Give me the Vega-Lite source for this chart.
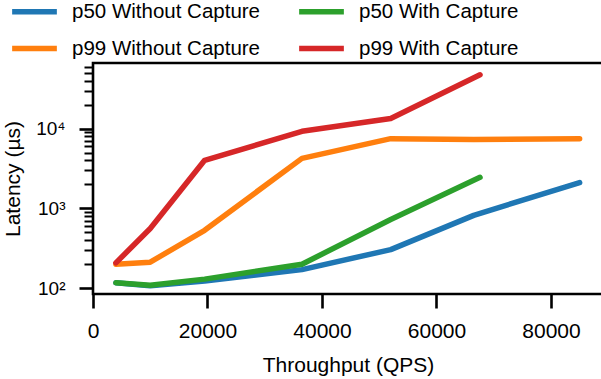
{
  "$schema": "https://vega.github.io/schema/vega-lite/v6.json",
  "autosize": {"type": "none"},
  "padding": {"left": 93, "top": 63, "right": 0, "bottom": 85},
  "width": 510,
  "height": 231,
  "config": {
    "font": "Liberation Sans",
    "view": {"stroke": "black", "strokeWidth": 2.6},
    "axis": {"grid": false, "domain": false, "labelColor": "black", "titleColor": "black", "tickColor": "black", "titleFontWeight": "normal"}
  },
  "data": {
    "values": [
      {"series": "p50 Without Capture", "qps": 4000, "latency": 117},
      {"series": "p50 Without Capture", "qps": 10000, "latency": 107},
      {"series": "p50 Without Capture", "qps": 19500, "latency": 123},
      {"series": "p50 Without Capture", "qps": 36500, "latency": 171},
      {"series": "p50 Without Capture", "qps": 52000, "latency": 305},
      {"series": "p50 Without Capture", "qps": 66500, "latency": 820},
      {"series": "p50 Without Capture", "qps": 85000, "latency": 2110},
      {"series": "p99 Without Capture", "qps": 4000, "latency": 200},
      {"series": "p99 Without Capture", "qps": 10000, "latency": 212},
      {"series": "p99 Without Capture", "qps": 19500, "latency": 533},
      {"series": "p99 Without Capture", "qps": 36500, "latency": 4250},
      {"series": "p99 Without Capture", "qps": 52000, "latency": 7500},
      {"series": "p99 Without Capture", "qps": 66500, "latency": 7300},
      {"series": "p99 Without Capture", "qps": 85000, "latency": 7500},
      {"series": "p50 With Capture", "qps": 4000, "latency": 117},
      {"series": "p50 With Capture", "qps": 10000, "latency": 109},
      {"series": "p50 With Capture", "qps": 19500, "latency": 130},
      {"series": "p50 With Capture", "qps": 36500, "latency": 200},
      {"series": "p50 With Capture", "qps": 52000, "latency": 726},
      {"series": "p50 With Capture", "qps": 67600, "latency": 2455},
      {"series": "p99 With Capture", "qps": 4000, "latency": 208},
      {"series": "p99 With Capture", "qps": 10000, "latency": 560},
      {"series": "p99 With Capture", "qps": 19500, "latency": 4020},
      {"series": "p99 With Capture", "qps": 36500, "latency": 9270},
      {"series": "p99 With Capture", "qps": 52000, "latency": 13400},
      {"series": "p99 With Capture", "qps": 67600, "latency": 47400}
    ]
  },
  "mark": {"type": "line", "strokeWidth": 5.5, "strokeCap": "round", "strokeJoin": "round", "clip": true},
  "encoding": {
    "x": {
      "field": "qps", "type": "quantitative",
      "scale": {"domain": [0, 89083], "nice": false, "zero": false},
      "axis": {
        "values": [0, 20000, 40000, 60000, 80000],
        "format": "d",
        "labelFontSize": 21,
        "labelFlush": false,
        "tickSize": 14,
        "tickWidth": 2.6,
        "labelPadding": 12,
        "title": "Throughput (QPS)",
        "titleFontSize": 21,
        "titlePadding": 13
      }
    },
    "y": {
      "field": "latency", "type": "quantitative",
      "scale": {"type": "log", "domain": [84.6, 66700], "nice": false},
      "axis": {
        "values": [100, 200, 300, 400, 500, 600, 700, 800, 900, 1000, 2000, 3000, 4000, 5000, 6000, 7000, 8000, 9000, 10000, 20000, 30000, 40000, 50000, 60000],
        "labelExpr": "datum.value == 100 ? '10²' : datum.value == 1000 ? '10³' : datum.value == 10000 ? '10⁴' : ''",
        "labelFontSize": 19,
        "labelOverlap": false,
        "labelBound": false,
        "labelFlush": false,
        "tickSize": {"condition": {"test": "datum.value == 100 || datum.value == 1000 || datum.value == 10000", "value": 14}, "value": 9},
        "tickWidth": {"condition": {"test": "datum.value == 100 || datum.value == 1000 || datum.value == 10000", "value": 2.6}, "value": 2},
        "labelPadding": 14,
        "title": "Latency (µs)",
        "titleFontSize": 21,
        "titlePadding": 12
      }
    },
    "color": {
      "field": "series", "type": "nominal",
      "scale": {
        "domain": ["p50 Without Capture", "p99 Without Capture", "p50 With Capture", "p99 With Capture"],
        "range": ["#1f77b4", "#ff7f0e", "#2ca02c", "#d62728"]
      },
      "legend": {
        "orient": "none",
        "legendX": -84,
        "legendY": -77,
        "title": null,
        "columns": 2,
        "symbolType": "stroke",
        "symbolSize": 2000,
        "symbolStrokeWidth": 5.5,
        "labelFontSize": 20.5,
        "labelColor": "black",
        "labelOffset": 12,
        "columnPadding": 27,
        "rowPadding": -21.5,
        "labelLimit": 400
      }
    }
  }
}
